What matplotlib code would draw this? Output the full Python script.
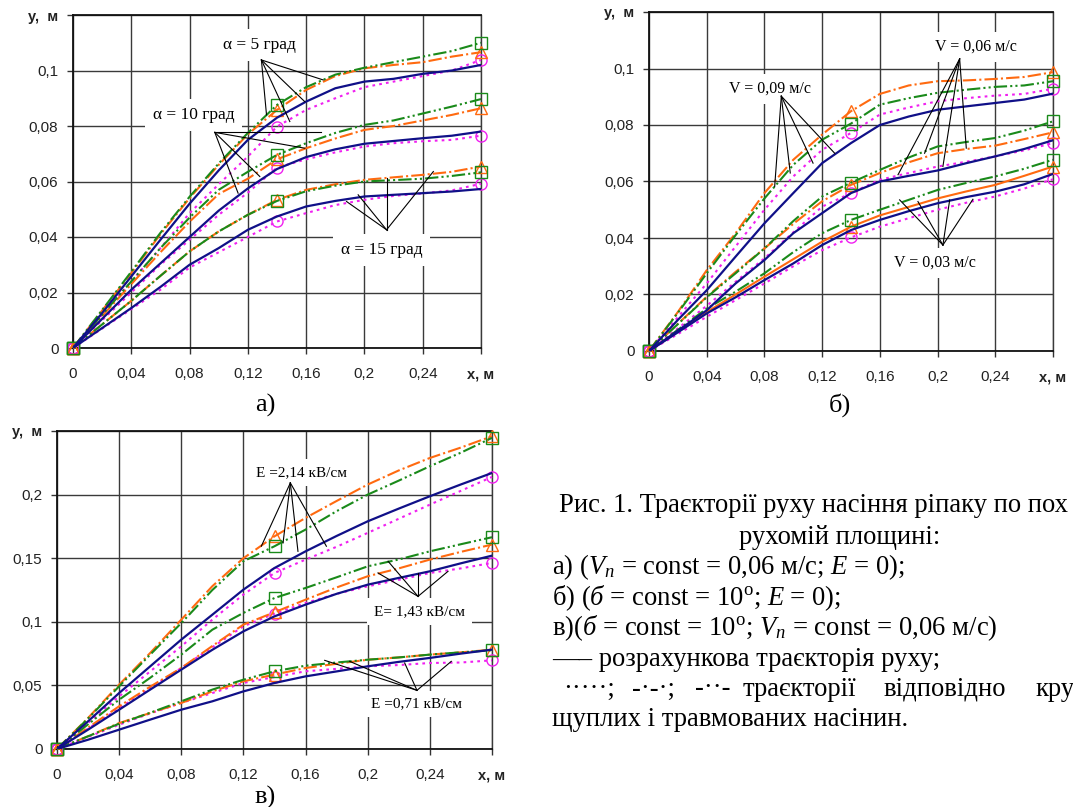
import matplotlib
matplotlib.use("Agg")
import matplotlib.pyplot as plt

plt.rcParams["mathtext.fontset"] = "custom"
plt.rcParams["mathtext.rm"] = "Liberation Serif"
plt.rcParams["mathtext.it"] = "Liberation Serif:italic"

x = [0, 0.02, 0.04, 0.06, 0.08, 0.10, 0.12, 0.14, 0.16, 0.18, 0.20, 0.22, 0.24, 0.26, 0.28]

# а) alpha = 5, 10, 15 град : calc (solid), large (dotted), light (dash-dot), damaged (dash-dot-dot)
a_calc = [
    [0, 0.0126, 0.0258, 0.039, 0.052, 0.064, 0.075, 0.083, 0.0888, 0.0936, 0.096, 0.097, 0.0988, 0.100, 0.102],
    [0, 0.0105, 0.021, 0.0305, 0.040, 0.0495, 0.0575, 0.0645, 0.0688, 0.0716, 0.0736, 0.0746, 0.0756, 0.0765, 0.078],
    [0, 0.0072, 0.0144, 0.022, 0.030, 0.036, 0.0426, 0.0474, 0.051, 0.053, 0.0546, 0.0552, 0.0558, 0.0564, 0.0573],
]
a_large = [
    [0, 0.012, 0.024, 0.036, 0.0486, 0.059, 0.069, 0.0798, 0.0858, 0.090, 0.094, 0.096, 0.098, 0.100, 0.1038],
    [0, 0.010, 0.020, 0.030, 0.039, 0.048, 0.056, 0.065, 0.068, 0.0705, 0.0726, 0.0738, 0.0745, 0.075, 0.0765],
    [0, 0.007, 0.014, 0.021, 0.029, 0.0345, 0.040, 0.0456, 0.0486, 0.0515, 0.0534, 0.0548, 0.0557, 0.0568, 0.0592],
]
a_light = [
    [0, 0.0135, 0.027, 0.041, 0.054, 0.066, 0.077, 0.0858, 0.093, 0.098, 0.1008, 0.102, 0.103, 0.105, 0.1066],
    [0, 0.0115, 0.023, 0.0345, 0.0455, 0.0555, 0.061, 0.068, 0.072, 0.0755, 0.0786, 0.080, 0.082, 0.084, 0.0864],
    [0, 0.0085, 0.017, 0.026, 0.0348, 0.042, 0.048, 0.0534, 0.057, 0.059, 0.0606, 0.0615, 0.0624, 0.0635, 0.0654],
]
a_damaged = [
    [0, 0.0137, 0.0275, 0.0415, 0.0545, 0.0665, 0.0775, 0.0876, 0.094, 0.0985, 0.101, 0.103, 0.105, 0.107, 0.110],
    [0, 0.012, 0.024, 0.036, 0.047, 0.057, 0.0635, 0.0696, 0.0738, 0.0775, 0.0804, 0.082, 0.0845, 0.087, 0.0897],
    [0, 0.0085, 0.017, 0.026, 0.0348, 0.042, 0.048, 0.053, 0.0565, 0.0585, 0.060, 0.0605, 0.061, 0.062, 0.0633],
]

# б) V = 0,09 / 0,06 / 0,03 м/с
b_calc = [
    [0, 0.011, 0.0215, 0.0334, 0.0452, 0.0559, 0.0665, 0.0736, 0.080, 0.083, 0.0854, 0.0866, 0.0878, 0.089, 0.0911],
    [0, 0.0072, 0.0144, 0.0239, 0.0322, 0.0417, 0.0488, 0.0559, 0.060, 0.062, 0.0639, 0.0665, 0.0689, 0.0715, 0.0746],
    [0, 0.0066, 0.0133, 0.019, 0.0251, 0.031, 0.0375, 0.0428, 0.0464, 0.0495, 0.0523, 0.0545, 0.0564, 0.059, 0.0627],
]
b_large = [
    [0, 0.012, 0.0239, 0.037, 0.050, 0.0618, 0.0712, 0.0772, 0.0837, 0.0862, 0.0884, 0.0895, 0.0904, 0.091, 0.0928],
    [0, 0.008, 0.016, 0.0245, 0.0328, 0.042, 0.0511, 0.0559, 0.0606, 0.063, 0.0653, 0.067, 0.0689, 0.071, 0.0736],
    [0, 0.006, 0.0121, 0.018, 0.0239, 0.030, 0.0357, 0.0402, 0.044, 0.047, 0.050, 0.0525, 0.0547, 0.0575, 0.0608],
]
b_light = [
    [0, 0.0138, 0.0286, 0.0417, 0.0559, 0.0677, 0.0766, 0.0849, 0.091, 0.094, 0.0955, 0.0958, 0.0963, 0.097, 0.0987],
    [0, 0.0096, 0.0192, 0.028, 0.0363, 0.045, 0.053, 0.0588, 0.063, 0.0668, 0.070, 0.0715, 0.0727, 0.075, 0.0774],
    [0, 0.0069, 0.0138, 0.020, 0.0263, 0.0325, 0.0387, 0.044, 0.048, 0.051, 0.054, 0.0565, 0.0588, 0.062, 0.0653],
]
b_damaged = [
    [0, 0.0135, 0.0275, 0.041, 0.054, 0.0659, 0.0748, 0.0805, 0.0872, 0.0895, 0.0914, 0.0925, 0.0935, 0.094, 0.0955],
    [0, 0.0095, 0.019, 0.0275, 0.0363, 0.046, 0.0547, 0.0596, 0.0641, 0.0685, 0.0724, 0.074, 0.0754, 0.078, 0.0813],
    [0, 0.0075, 0.015, 0.021, 0.0275, 0.035, 0.0417, 0.0464, 0.050, 0.0535, 0.057, 0.0595, 0.0618, 0.0645, 0.0677],
]

# в) E = 2,14 / 1,43 / 0,71 кВ/см
c_calc = [
    [0, 0.0218, 0.044, 0.065, 0.086, 0.1056, 0.1253, 0.1423, 0.1554, 0.1675, 0.179, 0.189, 0.1987, 0.208, 0.217],
    [0, 0.0152, 0.0309, 0.0467, 0.0624, 0.078, 0.0925, 0.1043, 0.1135, 0.122, 0.1292, 0.1345, 0.1397, 0.146, 0.152],
    [0, 0.0073, 0.0152, 0.0231, 0.0309, 0.0375, 0.0453, 0.0519, 0.0571, 0.061, 0.065, 0.0685, 0.0716, 0.075, 0.0781],
]
c_large = [
    [0, 0.0205, 0.0414, 0.061, 0.0807, 0.1017, 0.1214, 0.1384, 0.1489, 0.159, 0.1699, 0.181, 0.1921, 0.203, 0.2139],
    [0, 0.016, 0.032, 0.048, 0.0637, 0.080, 0.0965, 0.1064, 0.1148, 0.122, 0.1279, 0.133, 0.1384, 0.142, 0.1463],
    [0, 0.0095, 0.0191, 0.028, 0.0362, 0.044, 0.0519, 0.0566, 0.0611, 0.063, 0.065, 0.066, 0.0676, 0.068, 0.0697],
]
c_light = [
    [0, 0.0244, 0.0506, 0.0755, 0.1017, 0.128, 0.150, 0.1672, 0.1817, 0.195, 0.2079, 0.219, 0.2288, 0.237, 0.2459],
    [0, 0.0168, 0.0336, 0.049, 0.0637, 0.081, 0.0978, 0.1075, 0.1174, 0.127, 0.1358, 0.142, 0.1489, 0.155, 0.1607],
    [0, 0.010, 0.0204, 0.0283, 0.0362, 0.0453, 0.0532, 0.0585, 0.0637, 0.067, 0.0702, 0.072, 0.0742, 0.076, 0.0781],
]
c_damaged = [
    [0, 0.024, 0.0493, 0.0742, 0.099, 0.125, 0.1476, 0.1594, 0.1725, 0.187, 0.200, 0.211, 0.2223, 0.233, 0.2446],
    [0, 0.0194, 0.0388, 0.056, 0.0742, 0.0938, 0.107, 0.1187, 0.1266, 0.135, 0.1436, 0.149, 0.1554, 0.161, 0.1665],
    [0, 0.010, 0.0199, 0.0285, 0.0375, 0.0467, 0.0545, 0.0611, 0.0655, 0.068, 0.0702, 0.072, 0.0742, 0.076, 0.0776],
]

xticks = [0, 0.04, 0.08, 0.12, 0.16, 0.2, 0.24, 0.28]
xticklabels = ["0", "0,04", "0,08", "0,12", "0,16", "0,2", "0,24", "х, м"]
yticks_ab = [0, 0.02, 0.04, 0.06, 0.08, 0.1, 0.12]
yticklabels_ab = ["0", "0,02", "0,04", "0,06", "0,08", "0,1", "у,  м"]
yticks_c = [0, 0.05, 0.1, 0.15, 0.2, 0.25]
yticklabels_c = ["0", "0,05", "0,1", "0,15", "0,2", "у,  м"]

NAVY = "#101088"
MAGENTA = "#f020f0"
ORANGE = "#ff6a10"
GREEN = "#1a8a1a"
SERIF = "Liberation Serif"
SANS = "Liberation Sans"

fig = plt.figure(figsize=(10.73, 8.07), dpi=100)


def px_axes(left, top, right, bottom):
    W, H = 1073, 807
    return fig.add_axes([left / W, 1 - bottom / H, (right - left) / W, (bottom - top) / H])


def setup(ax, ymax, yticks, yticklabels):
    ax.set_xlim(0, 0.28)
    ax.set_ylim(0, ymax)
    ax.set_xticks(xticks)
    ax.set_xticklabels(xticklabels, fontsize=11, family=SANS, color="#222222")
    ax.set_yticks(yticks)
    ax.set_yticklabels(yticklabels, fontsize=11, family=SANS, color="#222222")
    ax.get_xticklabels()[-1].set_fontweight("bold")
    ax.get_yticklabels()[-1].set_fontweight("bold")
    ax.get_yticklabels()[-1].set_fontsize(10.5)
    ax.get_xticklabels()[-1].set_fontsize(10.5)
    ax.tick_params(axis="x", direction="out", length=4, width=1, pad=10, color="#333333")
    ax.tick_params(axis="y", direction="out", length=4.5, width=1, pad=6, color="#333333")
    ax.grid(True, color="#3a3a3a", linewidth=1.0)
    ax.set_axisbelow(True)
    for s in ["left", "bottom", "top"]:
        ax.spines[s].set_linewidth(1.3)
        ax.spines[s].set_color("#111111")
    ax.spines["right"].set_linewidth(1.0)
    ax.spines["right"].set_color("#3a3a3a")


def draw(ax, calc, large, light, damaged, solid_light=()):
    mk = [0, 7, 14]
    for i in range(3):
        ax.plot(x, calc[i], color=NAVY, lw=1.6, zorder=5)
        ax.plot(x, large[i], color=MAGENTA, lw=1.5, linestyle=(0, (1.3, 2.0)),
                marker="o", markevery=mk, ms=8, mfc="none", mew=1.0, clip_on=False, zorder=4)
        ls_light = "-" if i in solid_light else (0, (6.4, 1.5, 1, 1.5))
        ax.plot(x, light[i], color=ORANGE, lw=1.5, linestyle=ls_light,
                marker="^", markevery=mk, ms=8, mfc="none", mew=1.0, clip_on=False, zorder=4)
        ax.plot(x, damaged[i], color=GREEN, lw=1.5, linestyle=(0, (6.4, 1.5, 1, 1.5, 1, 1.5)),
                marker="s", markevery=mk, ms=8, mfc="none", mew=1.0, clip_on=False, zorder=4)


def callout(ax, label, lx, ly, ox, oy, ends, fs=11.5):
    ax.text(lx, ly, label, fontsize=fs, family=SERIF, ha="center", va="center", zorder=3,
            bbox=dict(boxstyle="square,pad=0.45", fc="white", ec="none"))
    for ex, ey in ends:
        ax.plot([ox, ex], [oy, ey], color="black", lw=0.8, zorder=6)


# panel а)
ax_a = px_axes(73, 15, 481, 348)
setup(ax_a, 0.12, yticks_ab, yticklabels_ab)
draw(ax_a, a_calc, a_large, a_light, a_damaged)
callout(ax_a, "α = 5 град", 0.1282, 0.1092, 0.1293, 0.1038,
        [(0.1328, 0.084), (0.1488, 0.0816), (0.159, 0.0888), (0.1717, 0.0966)], fs=12.5)
callout(ax_a, "α = 10 град", 0.0829, 0.0840, 0.0973, 0.0777,
        [(0.1133, 0.0558), (0.1282, 0.0618), (0.1591, 0.0720), (0.1705, 0.0777)], fs=12.5)
callout(ax_a, "α = 15 град", 0.2118, 0.0354, 0.2152, 0.0426,
        [(0.1957, 0.0552), (0.1877, 0.0528), (0.2152, 0.0612), (0.2473, 0.0636)], fs=12.5)

# panel б)
ax_b = px_axes(649, 12, 1053, 351)
setup(ax_b, 0.12, yticks_ab, yticklabels_ab)
draw(ax_b, b_calc, b_large, b_light, b_damaged, solid_light=(2,))
callout(ax_b, "V = 0,09 м/с", 0.0836, 0.0928, 0.0917, 0.0902,
        [(0.0871, 0.0582), (0.0979, 0.0630), (0.1137, 0.0665), (0.1287, 0.0700)])
callout(ax_b, "V = 0,06 м/с", 0.2268, 0.1077, 0.2153, 0.1034,
        [(0.1726, 0.0624), (0.191, 0.070), (0.2037, 0.0653), (0.2199, 0.0718)])
callout(ax_b, "V = 0,03 м/с", 0.198, 0.0312, 0.2037, 0.0375,
        [(0.1737, 0.0535), (0.1864, 0.0529), (0.2084, 0.0535), (0.2245, 0.0537)])

# panel в)
ax_c = px_axes(57, 431, 492, 749)
setup(ax_c, 0.25, yticks_c, yticklabels_c)
draw(ax_c, c_calc, c_large, c_light, c_damaged)
callout(ax_c, "E =2,14 кВ/см", 0.1577, 0.2176, 0.1502, 0.2092,
        [(0.1315, 0.1594), (0.1455, 0.162), (0.1551, 0.1554), (0.1734, 0.1594)], fs=11)
callout(ax_c, "E= 1,43 кВ/см", 0.2334, 0.1083, 0.2324, 0.120,
        [(0.2066, 0.1384), (0.2131, 0.1476), (0.2324, 0.1384), (0.2517, 0.1397)], fs=11)
callout(ax_c, "E =0,71 кВ/см", 0.2313, 0.0354, 0.2317, 0.0461,
        [(0.1723, 0.0697), (0.1884, 0.0689), (0.2238, 0.0676), (0.2538, 0.0689)], fs=11)


def ftext(px, py, s, **kw):
    fig.text(px / 1073, 1 - py / 807, s, family=SERIF, va="center", **kw)


ftext(265, 405, "а)", fontsize=19, ha="center")
ftext(840, 405, "б)", fontsize=19, ha="center")
ftext(265, 797, "в)", fontsize=19, ha="center")

fs = 19.2
ftext(559, 506, "Рис. 1. Траєкторії руху насіння ріпаку по пох", fontsize=fs, ha="left")
ftext(840, 537, "рухомій площині:", fontsize=fs, ha="center")
ftext(552, 567, r"а) ($V_n$ = const = 0,06 м/с; $E$ = 0);", fontsize=fs, ha="left")
ftext(552, 598, r"б) ($\mathit{б}$ = const = 10$^{\mathrm{o}}$; $E$ = 0);", fontsize=fs, ha="left")
ftext(552, 628, r"в)($\mathit{б}$ = const = 10$^{\mathrm{o}}$; $V_n$ = const = 0,06 м/с)", fontsize=fs, ha="left")
ftext(552, 659, "—– розрахункова траєкторія руху;", fontsize=fs, ha="left")
for px, word in [(563, "·····;"), (632, "-·-·;"), (695, "-··-"), (743, "траєкторії"),
                 (883, "відповідно"), (1035, "кру")]:
    ftext(px, 689, word, fontsize=fs, ha="left")
ftext(552, 720, "щуплих і травмованих насінин.", fontsize=fs, ha="left")

fig.savefig("out.png", dpi=100)
